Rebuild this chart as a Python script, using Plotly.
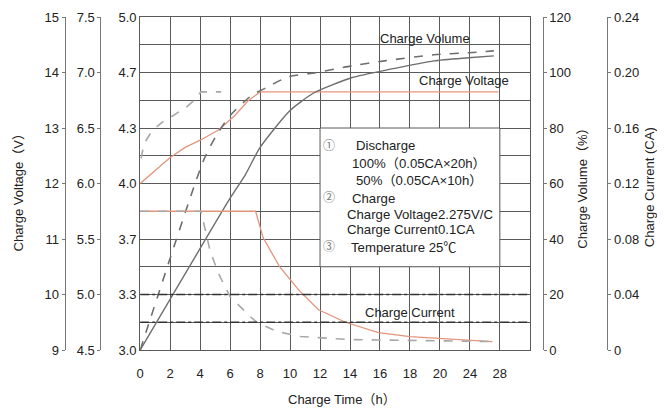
import plotly.graph_objects as go

# ---------------- data ----------------
# x values are in axis units: one gridline every 2 units, labels past 20 read 24, 28
x_tickvals = [0, 2, 4, 6, 8, 10, 12, 14, 16, 18, 20, 22, 24, 26]
x_ticktext = ["0", "2", "4", "6", "8", "10", "12", "14", "16", "18", "20", "24", "28", ""]

# Charge voltage (V): after 100% discharge (solid) and 50% discharge (dashed)
volt100_t = [0, 1, 2, 3, 4, 5.2, 6.3, 7.2, 8.0, 9.0, 23.9]
volt100_v = [12.0, 12.24, 12.47, 12.65, 12.78, 12.96, 13.22, 13.49, 13.65, 13.65, 13.65]
volt50_t = [0.05, 0.2, 0.4, 0.7, 1.05, 1.5, 2.0, 2.5, 3.05, 3.6, 4.05, 5.4]
volt50_v = [12.45, 12.64, 12.78, 12.91, 13.01, 13.11, 13.19, 13.27, 13.37, 13.50, 13.65, 13.65]

# Charge volume (%)
vol100_t = [0, 6.0, 7.0, 8.0, 10.0, 11.6, 14.1, 16.8, 19.6, 21.9, 23.6]
vol100_v = [0, 54.7, 63.0, 73.0, 86.3, 92.7, 98.1, 101.3, 104.2, 105.3, 106.0]
vol50_t = [0, 4.2, 5.0, 6.0, 7.4, 8.4, 9.9, 11.7, 14.1, 16.3, 19.6, 21.9, 23.6]
vol50_v = [0, 68.0, 76.6, 84.5, 91.6, 94.5, 98.5, 99.9, 102.4, 104.2, 106.4, 107.1, 107.8]

# Charge current (CA)
cur100_t = [0, 7.7, 8.2, 9.3, 10.6, 11.9, 13.7, 15.9, 18.0, 20.2, 23.5]
cur100_v = [0.10, 0.10, 0.081, 0.060, 0.043, 0.029, 0.020, 0.0126, 0.0097, 0.0082, 0.0061]
cur50_t = [0, 4.05, 4.3, 4.65, 5.2, 6.0, 7.35, 7.8, 9.15, 10.7, 14.0, 17.8, 23.4]
cur50_v = [0.10, 0.10, 0.0886, 0.072, 0.0556, 0.0384, 0.024, 0.0197, 0.0133, 0.0097, 0.0075, 0.0068, 0.0061]

# dash-dot guide levels (CA)
guide_current = [0.04, 0.02]
guide_t = [0, 26]

# axis ticks
cell_tickvals = [3 + i / 6 for i in range(13)]
cell_ticktext = ["3.0", "", "3.3", "", "3.7", "", "4.0", "", "4.3", "", "4.7", "", "5.0"]
v6_ticks = [4.5, 5.0, 5.5, 6.0, 6.5, 7.0, 7.5]
v6_text = ["4.5", "5.0", "5.5", "6.0", "6.5", "7.0", "7.5"]
v12_ticks = [9, 10, 11, 12, 13, 14, 15]
vol_ticks = [0, 20, 40, 60, 80, 100, 120]
cur_ticks = [0, 0.04, 0.08, 0.12, 0.16, 0.20, 0.24]
cur_text = ["0", "0.04", "0.08", "0.12", "0.16", "0.20", "0.24"]

legend_lines = [
    ("①", "Discharge"),
    ("", "100%（0.05CA×20h）"),
    ("", "50%（0.05CA×10h）"),
    ("②", "Charge"),
    ("", "Charge Voltage2.275V/C"),
    ("", "Charge Current0.1CA"),
    ("③", "Temperature 25℃"),
]

# ---------------- styling ----------------
FONT = "Liberation Sans, Arial, Noto Sans CJK SC, sans-serif"
TXT = "#222222"
GRID = "#5a5a5a"
ORANGE = "#e3957c"
DARK = "#6e6e6e"
LIGHT = "#a8a8a8"
AX = "#777777"

fig = go.Figure()

# empty traces so the two scale-only axes get drawn
fig.add_trace(go.Scatter(x=[], y=[], yaxis="y", showlegend=False, hoverinfo="skip"))
fig.add_trace(go.Scatter(x=[], y=[], yaxis="y2", showlegend=False, hoverinfo="skip"))

fig.add_trace(go.Scatter(x=volt100_t, y=volt100_v, yaxis="y3", mode="lines",
                         line=dict(color=ORANGE, width=1.3), showlegend=False))
fig.add_trace(go.Scatter(x=volt50_t, y=volt50_v, yaxis="y3", mode="lines",
                         line=dict(color=LIGHT, width=1.6, dash="dash"), showlegend=False))
fig.add_trace(go.Scatter(x=vol100_t, y=vol100_v, yaxis="y4", mode="lines", line_shape="spline",
                         line=dict(color=DARK, width=1.4, smoothing=0.6), showlegend=False))
fig.add_trace(go.Scatter(x=vol50_t, y=vol50_v, yaxis="y4", mode="lines", line_shape="spline",
                         line=dict(color=DARK, width=1.6, dash="dash", smoothing=0.6), showlegend=False))
fig.add_trace(go.Scatter(x=cur100_t, y=cur100_v, yaxis="y5", mode="lines",
                         line=dict(color=ORANGE, width=1.3), showlegend=False))
fig.add_trace(go.Scatter(x=cur50_t, y=cur50_v, yaxis="y5", mode="lines",
                         line=dict(color=LIGHT, width=1.6, dash="dash"), showlegend=False))
for g in guide_current:
    fig.add_trace(go.Scatter(x=guide_t, y=[g, g], yaxis="y5", mode="lines",
                             line=dict(color="#333333", width=1.4, dash="dashdot"),
                             showlegend=False, hoverinfo="skip"))

tickfont = dict(family=FONT, size=13, color=TXT)

fig.update_layout(
    width=657, height=406,
    margin=dict(l=2, r=2, t=8, b=63.5),
    paper_bgcolor="white", plot_bgcolor="white",
    font=dict(family=FONT, color=TXT, size=13),
    xaxis=dict(domain=[0.19449, 0.79479], range=[0, 26], autorange=False, tickmode="array",
               tickvals=x_tickvals, ticktext=x_ticktext, showgrid=True,
               gridcolor=GRID, gridwidth=1, zeroline=False, showline=True,
               mirror=True, linecolor=GRID, ticks="", tickfont=tickfont,
               ticklabelstandoff=11),
    yaxis=dict(range=[3, 5], autorange=False, tickmode="array", tickvals=cell_tickvals,
               ticktext=cell_ticktext, showgrid=True, gridcolor=GRID, gridwidth=1,
               zeroline=False, showline=True, mirror=True, linecolor=GRID,
               ticks="", tickfont=tickfont),
    yaxis2=dict(range=[4.5, 7.5], autorange=False, overlaying="y", anchor="free", side="left",
                position=0.1332, tickmode="array", tickvals=v6_ticks, ticktext=v6_text,
                showgrid=False, zeroline=False, showline=True, linecolor=AX,
                ticks="outside", ticklen=3, tickcolor=AX, tickfont=tickfont),
    yaxis3=dict(range=[9, 15], autorange=False, overlaying="y", anchor="free", side="left",
                position=0.0781, tickmode="array", tickvals=v12_ticks,
                showgrid=False, zeroline=False, showline=True, linecolor=AX,
                ticks="outside", ticklen=3, tickcolor=AX, tickfont=tickfont),
    yaxis4=dict(range=[0, 120], autorange=False, overlaying="y", anchor="free", side="right",
                position=0.8147, tickmode="array", tickvals=vol_ticks,
                showgrid=False, zeroline=False, showline=True, linecolor=AX,
                ticks="outside", ticklen=3, tickcolor=AX, tickfont=tickfont),
    yaxis5=dict(range=[0, 0.24], autorange=False, overlaying="y", anchor="free", side="right",
                position=0.9142, tickmode="array", tickvals=cur_ticks, ticktext=cur_text,
                showgrid=False, zeroline=False, showline=True, linecolor=AX,
                ticks="outside", ticklen=3, tickcolor=AX, tickfont=tickfont),
)

# white note box covering the grid (in the primary y units: 3.5 .. 4.333)
fig.add_shape(type="rect", xref="x", yref="y", x0=12, x1=24, y0=cell_tickvals[3],
              y1=cell_tickvals[8], fillcolor="white", line=dict(color=GRID, width=1),
              layer="between")

C = dict(xanchor="center", yanchor="middle", showarrow=False)
ann = []
# curve labels
ann.append(dict(x=19.0, y=14.62, xref="x", yref="y3", text="Charge Volume",
                font=dict(size=13), **C))
ann.append(dict(x=21.6, y=13.85, xref="x", yref="y3", text="Charge Voltage",
                font=dict(size=13), **C))
ann.append(dict(x=18.0, y=9.68, xref="x", yref="y3", text="Charge Current",
                font=dict(size=13), **C))

# note box text
note_y = [12.68, 12.36, 12.05, 11.73, 11.44, 11.17, 10.85]
note_x = [14.26, 14.0, 14.26, 14.0, 13.66, 13.66, 13.93]
for (mark, text), yy, xx in zip(legend_lines, note_y, note_x):
    if mark:
        ann.append(dict(x=12.6, y=yy, xref="x", yref="y3", text=mark,
                        font=dict(size=12, color="#777777"), **C))
    ann.append(dict(x=xx, y=yy, xref="x", yref="y3", text=text, showarrow=False,
                    xanchor="left", yanchor="middle", font=dict(size=13.2)))

# axis titles
ann.append(dict(x=0.0065, y=0.483, xref="paper", yref="paper", text="Charge Voltage（V）",
                textangle=-90, font=dict(size=13), **C))
ann.append(dict(x=0.876, y=0.495, xref="paper", yref="paper", text="Charge Volume（%）",
                textangle=-90, font=dict(size=13), **C))
ann.append(dict(x=0.979, y=0.49, xref="paper", yref="paper", text="Charge Current (CA)",
                textangle=-90, font=dict(size=13), **C))
ann.append(dict(x=0.5054, y=-0.148, xref="paper", yref="paper", text="Charge Time（h）",
                font=dict(size=13), **C))

fig.update_layout(annotations=ann)

fig.write_html("out.html")
